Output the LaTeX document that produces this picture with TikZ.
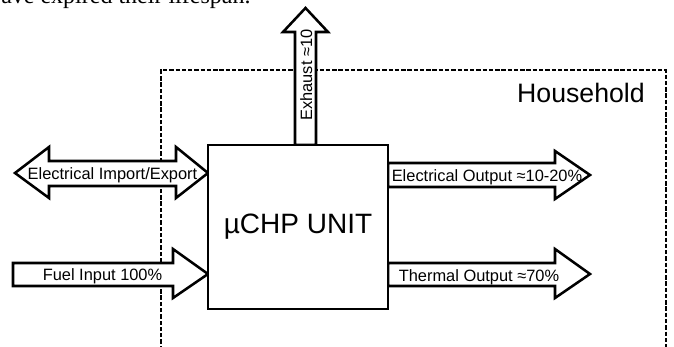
\documentclass[tikz,border=0pt]{standalone}
\usepackage{fontspec}
\setmainfont{Liberation Sans}
\newfontfamily\bodyserif{Liberation Serif}
\usepackage{tikz}
\tikzset{
	chpbox/.style={draw=black,fill=white,line width=2.2pt,minimum width=135pt,minimum height=123pt,inner sep=0pt},
	chptext/.style={inner sep=0pt,font=\fontsize{21}{24}\selectfont},
	flowarrow/.style={draw=black,fill=white,line width=1.9pt,line join=miter},
	flowlabel/.style={inner sep=0pt,font=\fontsize{12.3}{14}\selectfont},
	houseline/.style={draw=black,line width=1.7pt,dash pattern=on 3.3pt off 1.4pt}
}
\begin{document}
\begin{tikzpicture}[x=0.75pt,y=-0.75pt]
				\useasboundingbox (0,0) rectangle (674,346);
				\node[anchor=base west,inner sep=0pt,font=\bodyserif\fontsize{18}{20}\selectfont] (prev) at (1,4) {ave expired their lifespan.};
				\draw[houseline] (161,350) -- (161,70) -- (666,70) -- (666,350);
				\node[anchor=base east,inner sep=0pt,font=\fontsize{20}{24}\selectfont] (house) at (645,102) {Household};
				\draw[flowarrow] (208,173) -- (176,147) -- (176,161) -- (49,161) -- (49,147) -- (15,173) -- (49,198) -- (49,186) -- (176,186) -- (176,198) -- cycle;
				\draw[flowarrow] (13,263) -- (173,263) -- (173,249) -- (208,274) -- (173,298) -- (173,286) -- (13,286) -- cycle;
				\draw[flowarrow] (388,163) -- (555,163) -- (555,151) -- (590,175) -- (555,199) -- (555,187) -- (388,187) -- cycle;
				\draw[flowarrow] (388,263) -- (555,263) -- (555,249) -- (590,274) -- (555,298) -- (555,286) -- (388,286) -- cycle;
				\draw[flowarrow] (295,145) -- (295,32) -- (283,32) -- (305.5,8) -- (328,32) -- (316,32) -- (316,145) -- cycle;
				\node[chpbox] (unit) at (298,227) {};
				\node[chptext,anchor=base] (unitname) at (298,233) {µCHP UNIT};
				\node[flowlabel,anchor=base] (imex) at (112.5,179) {Electrical Import/Export};
				\node[flowlabel,anchor=base] (fuel) at (102.5,280) {Fuel Input 100\%};
				\node[flowlabel,anchor=base] (elout) at (487,181) {Electrical Output ≈10-20\%};
				\node[flowlabel,anchor=base] (thout) at (479,281) {Thermal Output ≈70\%};
				\node[flowlabel,anchor=base,rotate=90] (exh) at (312,75) {Exhaust ≈10};
			\end{tikzpicture}
\end{document}
